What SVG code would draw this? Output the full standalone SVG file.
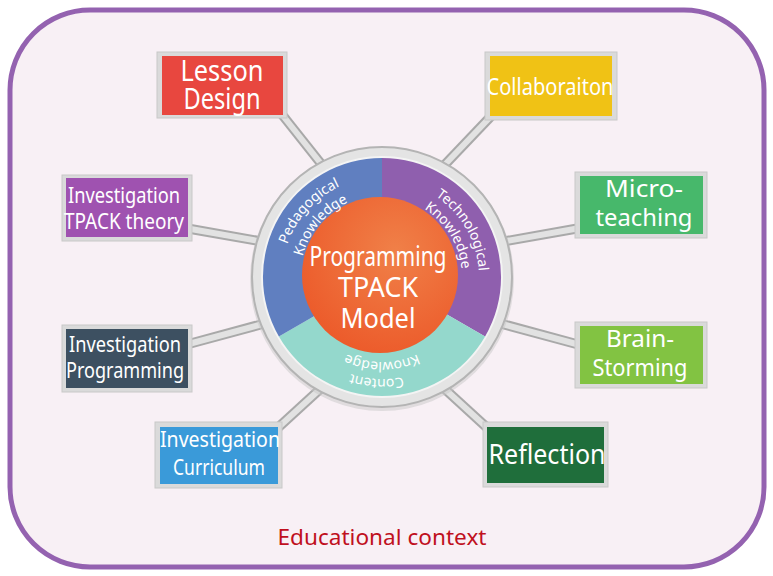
<svg xmlns="http://www.w3.org/2000/svg" width="773" height="576" viewBox="0 0 773 576">
<defs>
<radialGradient id="og" cx="0.6" cy="0.35" r="0.7">
<stop offset="0" stop-color="#f08048"/>
<stop offset="1" stop-color="#ec5a2a"/>
</radialGradient>
<path id="pk1" d="M283.5,294.4 A100,100 0 0 1 389.0,177.2"/>
<path id="pk2" d="M301.8,294.0 A82,82 0 0 1 384.9,195.0"/>
<path id="tk1" d="M395.5,180.9 A97,97 0 0 1 471.9,313.3"/>
<path id="tk2" d="M390.4,197.4 A80,80 0 0 1 457.2,304.4"/>
<path id="ck1" d="M459.0,343.9 A102,102 0 0 1 298.4,335.5"/>
<path id="ck2" d="M449.0,329.3 A85,85 0 0 1 315.0,329.3"/>
</defs>
<style>
.frame{fill:#dadada;stroke:#c8c8c8;stroke-width:1}
.t{font-family:"Noto Sans","Liberation Sans",sans-serif;fill:#ffffff;text-anchor:middle}
.arc{font-family:"Noto Sans","Liberation Sans",sans-serif;fill:#ffffff;font-size:14px}
.spo{stroke:#a9a9a9;stroke-width:10;stroke-linecap:butt}
.spi{stroke:#e2e2e2;stroke-width:6;stroke-linecap:butt}
</style>
<rect x="10" y="10" width="754" height="557" rx="80" ry="80" fill="#f8f0f5" stroke="#9462b0" stroke-width="5"/>
<g id="connectors">
<line class="spo" x1="330" y1="175" x2="280" y2="112"/><line class="spi" x1="330" y1="175" x2="280" y2="112"/>
<line class="spo" x1="435" y1="175" x2="495" y2="112"/><line class="spi" x1="435" y1="175" x2="495" y2="112"/>
<line class="spo" x1="270" y1="243" x2="185" y2="228"/><line class="spi" x1="270" y1="243" x2="185" y2="228"/>
<line class="spo" x1="495" y1="243" x2="580" y2="228"/><line class="spi" x1="495" y1="243" x2="580" y2="228"/>
<line class="spo" x1="270" y1="322" x2="185" y2="345"/><line class="spi" x1="270" y1="322" x2="185" y2="345"/>
<line class="spo" x1="495" y1="322" x2="580" y2="345"/><line class="spi" x1="495" y1="322" x2="580" y2="345"/>
<line class="spo" x1="330" y1="380" x2="270" y2="435"/><line class="spi" x1="330" y1="380" x2="270" y2="435"/>
<line class="spo" x1="435" y1="380" x2="495" y2="435"/><line class="spi" x1="435" y1="380" x2="495" y2="435"/>
</g>
<g id="tpack-model">
<circle cx="382" cy="279" r="132" fill="#c8c8c8" opacity="0.5"/>
<circle cx="382" cy="277" r="130" fill="#e4e4e4" stroke="#b4b4b4" stroke-width="2"/>
<circle cx="382" cy="277" r="121" fill="#f4f4f4"/>
<path d="M382,277 L382,158 A119,119 0 0 1 485.1,336.5 Z" fill="#8f5fae"/>
<path d="M382,277 L485.1,336.5 A119,119 0 0 1 278.9,336.5 Z" fill="#94d8cc"/>
<path d="M382,277 L278.9,336.5 A119,119 0 0 1 382,158 Z" fill="#607fc0"/>
<circle cx="380" cy="275" r="78" fill="url(#og)"/>
<text class="arc"><textPath href="#pk1" startOffset="50%" text-anchor="middle">Pedagogical</textPath></text>
<text class="arc"><textPath href="#pk2" startOffset="50%" text-anchor="middle">Knowledge</textPath></text>
<text class="arc"><textPath href="#tk1" startOffset="50%" text-anchor="middle">Technological</textPath></text>
<text class="arc"><textPath href="#tk2" startOffset="50%" text-anchor="middle">Knowledge</textPath></text>
<text class="arc"><textPath href="#ck1" startOffset="50%" text-anchor="middle">Content</textPath></text>
<text class="arc"><textPath href="#ck2" startOffset="50%" text-anchor="middle">Knowledge</textPath></text>
<text class="t" x="378" y="266" font-size="28" textLength="137" lengthAdjust="spacingAndGlyphs">Programming</text>
<text class="t" x="378" y="297" font-size="28" textLength="80" lengthAdjust="spacingAndGlyphs">TPACK</text>
<text class="t" x="378" y="328" font-size="28" textLength="75" lengthAdjust="spacingAndGlyphs">Model</text>
</g>
<g id="lesson-design">
<rect class="frame" x="157" y="52" width="130" height="66"/>
<rect x="162" y="56" width="121" height="59" fill="#e8473f"/>
<text class="t" x="222" y="81" font-size="29" textLength="83" lengthAdjust="spacingAndGlyphs">Lesson</text>
<text class="t" x="222" y="109" font-size="29" textLength="77" lengthAdjust="spacingAndGlyphs">Design</text>
</g>
<g id="collaboraiton">
<rect class="frame" x="485" y="52" width="132" height="68"/>
<rect x="490" y="56" width="122" height="60" fill="#f0c215"/>
<text class="t" x="550" y="95" font-size="24" textLength="127" lengthAdjust="spacingAndGlyphs">Collaboraiton</text>
</g>
<g id="investigation-tpack-theory">
<rect class="frame" x="62" y="175" width="130" height="66"/>
<rect x="66" y="178" width="122" height="59" fill="#9f52b0"/>
<text class="t" x="124" y="203" font-size="21" textLength="112" lengthAdjust="spacingAndGlyphs">Investigation</text>
<text class="t" x="124" y="229" font-size="21" textLength="120" lengthAdjust="spacingAndGlyphs">TPACK theory</text>
</g>
<g id="micro-teaching">
<rect class="frame" x="575" y="172" width="132" height="66"/>
<rect x="580" y="176" width="123" height="58" fill="#47b86b"/>
<text class="t" x="644" y="197" font-size="24" textLength="78" lengthAdjust="spacingAndGlyphs">Micro-</text>
<text class="t" x="644" y="226" font-size="24" textLength="97" lengthAdjust="spacingAndGlyphs">teaching</text>
</g>
<g id="investigation-programming">
<rect class="frame" x="62" y="325" width="130" height="67"/>
<rect x="66" y="329" width="122" height="59" fill="#3d5061"/>
<text class="t" x="125" y="352" font-size="21" textLength="112" lengthAdjust="spacingAndGlyphs">Investigation</text>
<text class="t" x="125" y="378" font-size="21" textLength="118" lengthAdjust="spacingAndGlyphs">Programming</text>
</g>
<g id="brain-storming">
<rect class="frame" x="575" y="322" width="132" height="66"/>
<rect x="580" y="326" width="123" height="58" fill="#82c342"/>
<text class="t" x="640" y="347" font-size="24" textLength="68" lengthAdjust="spacingAndGlyphs">Brain-</text>
<text class="t" x="640" y="376" font-size="24" textLength="95" lengthAdjust="spacingAndGlyphs">Storming</text>
</g>
<g id="investigation-curriculum">
<rect class="frame" x="155" y="422" width="127" height="66"/>
<rect x="160" y="427" width="118" height="57" fill="#3a9ad9"/>
<text class="t" x="220" y="447" font-size="21" textLength="120" lengthAdjust="spacingAndGlyphs">Investigation</text>
<text class="t" x="219" y="475" font-size="21" textLength="92" lengthAdjust="spacingAndGlyphs">Curriculum</text>
</g>
<g id="reflection">
<rect class="frame" x="483" y="422" width="125" height="65"/>
<rect x="487" y="427" width="117" height="56" fill="#1f6e3b"/>
<text class="t" x="547" y="464" font-size="27" textLength="117" lengthAdjust="spacingAndGlyphs">Reflection</text>
</g>
<text x="382" y="545" font-family="Noto Sans,Liberation Sans,sans-serif" font-size="22" fill="#c0101e" text-anchor="middle" textLength="209" lengthAdjust="spacingAndGlyphs">Educational context</text>
</svg>
